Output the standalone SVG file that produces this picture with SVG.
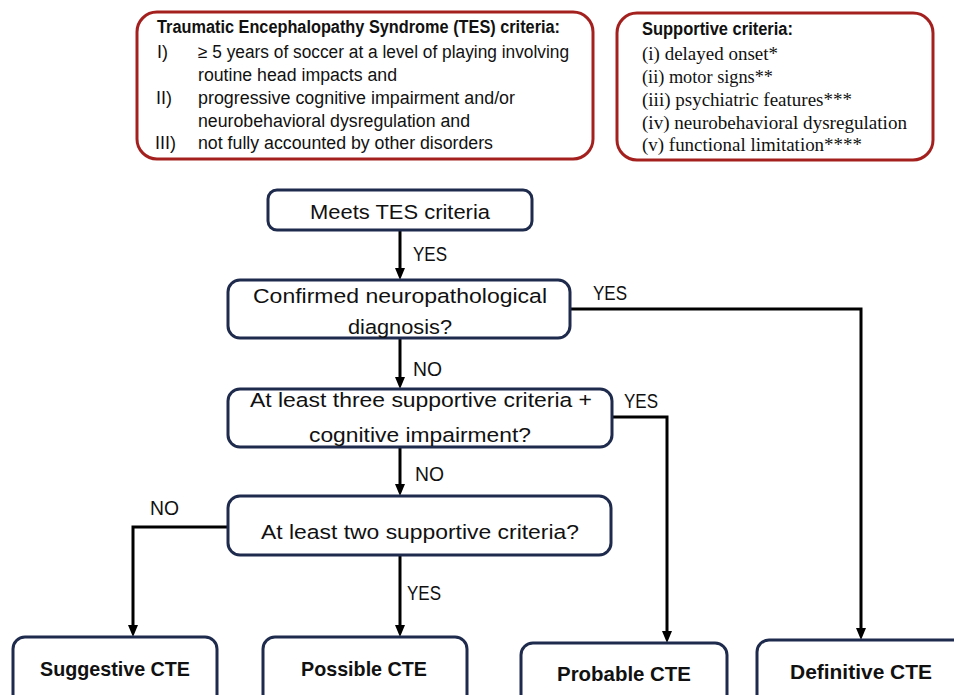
<svg xmlns="http://www.w3.org/2000/svg" width="954" height="695" viewBox="0 0 954 695">
<style>
.crit{fill:#fff;stroke:#a3201f;stroke-width:3}
.box{fill:#fff;stroke:#1f2b4d;stroke-width:3}
.t{font-family:"Liberation Sans",Arial,sans-serif;fill:#111}
.s{font-size:18px}
.f{font-size:20.5px}
.fb{font-size:21px;font-weight:bold}
.b{font-weight:bold}
.sr{font-family:"Liberation Serif","Times New Roman",serif;font-size:19.5px;fill:#111}
.c{text-anchor:middle}
.lbl{font-family:"Liberation Sans",Arial,sans-serif;font-size:20px;fill:#111}
.con{fill:none;stroke:#000;stroke-width:3}
</style>
<defs>
<marker id="ah" viewBox="0 0 12 10" markerWidth="12" markerHeight="10" refX="2" refY="5" orient="auto" markerUnits="userSpaceOnUse">
<path d="M0,0 L12,5 L0,10 z" fill="#000"/>
</marker>
</defs>
<rect width="954" height="695" fill="#fff"/>

<g id="tes-criteria">
<rect class="crit" x="137" y="12" width="456" height="147" rx="20"/>
<text class="t s b" x="157" y="33" textLength="403" lengthAdjust="spacingAndGlyphs">Traumatic Encephalopathy Syndrome (TES) criteria:</text>
<text class="t s" x="157" y="58">I)</text>
<text class="t s" x="198" y="58" textLength="371" lengthAdjust="spacingAndGlyphs">≥ 5 years of soccer at a level of playing involving</text>
<text class="t s" x="198" y="81" textLength="199" lengthAdjust="spacingAndGlyphs">routine head impacts and</text>
<text class="t s" x="156" y="104">II)</text>
<text class="t s" x="198" y="104" textLength="317" lengthAdjust="spacingAndGlyphs">progressive cognitive impairment and/or</text>
<text class="t s" x="198" y="127" textLength="272" lengthAdjust="spacingAndGlyphs">neurobehavioral dysregulation and</text>
<text class="t s" x="155" y="149">III)</text>
<text class="t s" x="198" y="149" textLength="295" lengthAdjust="spacingAndGlyphs">not fully accounted by other disorders</text>
</g>

<g id="supportive-criteria">
<rect class="crit" x="617" y="13" width="316" height="147" rx="20"/>
<text class="t s b" x="642" y="35" textLength="151" lengthAdjust="spacingAndGlyphs">Supportive criteria:</text>
<text class="sr" x="642" y="60" textLength="136" lengthAdjust="spacingAndGlyphs">(i) delayed onset*</text>
<text class="sr" x="642" y="83" textLength="131" lengthAdjust="spacingAndGlyphs">(ii) motor signs**</text>
<text class="sr" x="642" y="106" textLength="210" lengthAdjust="spacingAndGlyphs">(iii) psychiatric features***</text>
<text class="sr" x="642" y="129" textLength="265" lengthAdjust="spacingAndGlyphs">(iv) neurobehavioral dysregulation</text>
<text class="sr" x="642" y="151" textLength="220" lengthAdjust="spacingAndGlyphs">(v) functional limitation****</text>
</g>

<g id="connectors">
<line class="con" x1="400" y1="230" x2="400" y2="270" marker-end="url(#ah)"/>
<line class="con" x1="400" y1="338" x2="400" y2="379" marker-end="url(#ah)"/>
<line class="con" x1="400" y1="447" x2="400" y2="486" marker-end="url(#ah)"/>
<line class="con" x1="400" y1="555" x2="400" y2="627" marker-end="url(#ah)"/>
<polyline class="con" points="570,309 861,309 861,630" marker-end="url(#ah)"/>
<polyline class="con" points="612,417 667,417 667,633" marker-end="url(#ah)"/>
<polyline class="con" points="228,527 133,527 133,627" marker-end="url(#ah)"/>
<text class="lbl" x="413" y="261" textLength="34" lengthAdjust="spacingAndGlyphs">YES</text>
<text class="lbl" x="413" y="376" textLength="29" lengthAdjust="spacingAndGlyphs">NO</text>
<text class="lbl" x="415" y="481" textLength="29" lengthAdjust="spacingAndGlyphs">NO</text>
<text class="lbl" x="407" y="600" textLength="34" lengthAdjust="spacingAndGlyphs">YES</text>
<text class="lbl" x="593" y="300" textLength="34" lengthAdjust="spacingAndGlyphs">YES</text>
<text class="lbl" x="624" y="408" textLength="34" lengthAdjust="spacingAndGlyphs">YES</text>
<text class="lbl" x="150" y="515" textLength="29" lengthAdjust="spacingAndGlyphs">NO</text>
</g>

<g id="meets-tes">
<rect class="box" x="268" y="190" width="264" height="40" rx="9"/>
<text class="t f c" x="400" y="219" textLength="180" lengthAdjust="spacingAndGlyphs">Meets TES criteria</text>
</g>

<g id="confirmed">
<rect class="box" x="228" y="280" width="342" height="58" rx="12"/>
<text class="t f c" x="400" y="303" textLength="294" lengthAdjust="spacingAndGlyphs">Confirmed neuropathological</text>
<text class="t f c" x="400" y="334" textLength="104" lengthAdjust="spacingAndGlyphs">diagnosis?</text>
</g>

<g id="three-criteria">
<rect class="box" x="228" y="389" width="384" height="58" rx="12"/>
<text class="t f c" x="421" y="407" textLength="342" lengthAdjust="spacingAndGlyphs">At least three supportive criteria +</text>
<text class="t f c" x="420" y="442" textLength="222" lengthAdjust="spacingAndGlyphs">cognitive impairment?</text>
</g>

<g id="two-criteria">
<rect class="box" x="228" y="496" width="383" height="59" rx="12"/>
<text class="t f c" x="420" y="539" textLength="318" lengthAdjust="spacingAndGlyphs">At least two supportive criteria?</text>
</g>

<g id="suggestive">
<rect class="box" x="13" y="637" width="204" height="70" rx="12"/>
<text class="t fb c" x="115" y="676" textLength="150" lengthAdjust="spacingAndGlyphs">Suggestive CTE</text>
</g>

<g id="possible">
<rect class="box" x="263" y="637" width="204" height="70" rx="12"/>
<text class="t fb c" x="364" y="676" textLength="126" lengthAdjust="spacingAndGlyphs">Possible CTE</text>
</g>

<g id="probable">
<rect class="box" x="521" y="643" width="206" height="70" rx="12"/>
<text class="t fb c" x="624" y="681" textLength="134" lengthAdjust="spacingAndGlyphs">Probable CTE</text>
</g>

<g id="definitive">
<rect class="box" x="757" y="640" width="210" height="70" rx="12"/>
<text class="t fb c" x="861" y="679" textLength="142" lengthAdjust="spacingAndGlyphs">Definitive CTE</text>
</g>
</svg>
